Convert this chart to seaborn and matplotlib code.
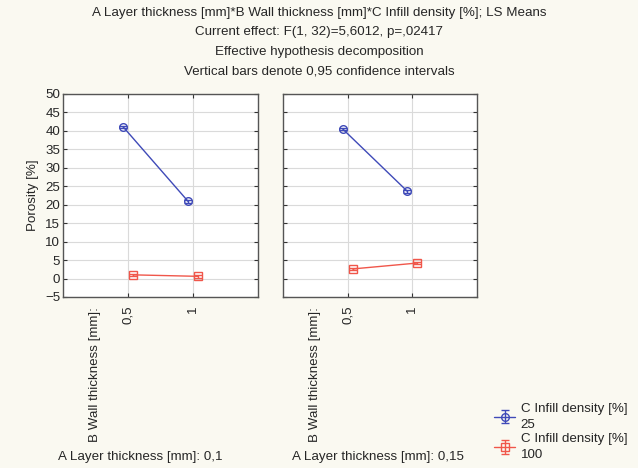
import numpy as np
import pandas as pd
import matplotlib
matplotlib.use("Agg")
import matplotlib.pyplot as plt
from matplotlib.legend_handler import HandlerTuple
import seaborn as sns

# ---- data ----
wall_levels = ["0,5", "1"]
layer_levels = ["0,1", "0,15"]
infill_levels = ["25", "100"]
# porosity LS means per layer panel: [infill 25 values], [infill 100 values]
porosity_layer_01 = {"25": [41.1, 20.9], "100": [1.0, 0.6]}
porosity_layer_015 = {"25": [40.5, 23.6], "100": [2.6, 4.2]}
ci_half = 0.35  # tiny 0.95 confidence half-width

title_lines = [
    "A Layer thickness [mm]*B Wall thickness [mm]*C Infill density [%]; LS Means",
    "Current effect: F(1, 32)=5,6012, p=,02417",
    "Effective hypothesis decomposition",
    "Vertical bars denote 0,95 confidence intervals",
]

rows = []
for layer, d in zip(layer_levels, [porosity_layer_01, porosity_layer_015]):
    for inf in infill_levels:
        for w, v in zip(wall_levels, d[inf]):
            rows.append({"layer": layer, "wall": w, "infill": inf, "porosity": v})
df = pd.DataFrame(rows)

sns.set_theme(style="white")
plt.rcParams["font.family"] = ["Liberation Sans", "DejaVu Sans"]
FS = 9.6
bg = "#FAF9F1"
blue = "#3F4AB8"
red = "#F0564A"
palette = {"25": blue, "100": red}

fig = plt.figure(figsize=(6.38, 4.68), dpi=100, facecolor=bg)
axes = [fig.add_axes([63/638, 1-297/468, 195/638, 203/468]),
        fig.add_axes([283/638, 1-297/468, 194/638, 203/468])]

dodge = 0.15
handles = []
for i, (ax, layer) in enumerate(zip(axes, layer_levels)):
    sub = df[df["layer"] == layer]
    sns.pointplot(data=sub, x="wall", y="porosity", hue="infill",
                  order=wall_levels, hue_order=infill_levels, palette=palette,
                  markers=["o", "s"], linestyles=["-", "-"], dodge=dodge,
                  errorbar=None, markersize=5.5, linewidth=1.0, ax=ax, legend=False)
    lines = list(ax.lines)
    for ln in lines:
        ln.set_markerfacecolor("none")
        ln.set_markeredgewidth(1.0)
    # confidence bars
    for k, inf in enumerate(infill_levels):
        s = sub[sub["infill"] == inf]
        xs = np.arange(len(wall_levels)) + (k - 0.5) * dodge
        eb = ax.errorbar(xs, s["porosity"].values, yerr=ci_half, fmt="none",
                         ecolor=palette[inf], elinewidth=1.0, capsize=3,
                         capthick=1.0)
        if i == 0:
            handles.append((lines[k], eb))
    ax.set_xlim(-1, 2)
    ax.set_ylim(-5, 50)
    ax.set_yticks(np.arange(-5, 51, 5))
    ax.set_facecolor("white")
    ax.grid(True, color="#DADADA", linewidth=0.8)
    ax.set_axisbelow(True)
    ax.tick_params(direction="in", length=3, width=0.8, color="#333333",
                   top=True, right=True, bottom=True, left=True,
                   labelsize=FS, pad=2)
    ax.tick_params(axis="x", labelrotation=90, pad=6)
    for sp in ax.spines.values():
        sp.set_color("#555555")
        sp.set_linewidth(1.0)
    ax.set_xlabel("")
    ax.set_ylabel("")
    ax.text(0.165, -0.05, "B Wall thickness [mm]:", transform=ax.transAxes,
            rotation=90, ha="center", va="top", fontsize=FS)
    if i == 1:
        ax.set_yticklabels([])

axes[0].set_ylabel("Porosity [%]", fontsize=FS, labelpad=4)

fig.text(58/638, 1-457/468, "A Layer thickness [mm]: 0,1", fontsize=FS, va="center", ha="left")
fig.text(292/638, 1-457/468, "A Layer thickness [mm]: 0,15", fontsize=FS, va="center", ha="left")

for j, t in enumerate(title_lines):
    fig.text(0.5, 1-(13 + 19.5*j)/468, t, ha="center", va="center", fontsize=FS)

labels = [f"C Infill density [%]\n{inf}" for inf in infill_levels]
leg = fig.legend(handles=handles, labels=labels, loc="upper left",
                 bbox_to_anchor=(494/638, 1-403/468),
                 handler_map={tuple: HandlerTuple(ndivide=1)}, numpoints=1,
                 frameon=False, fontsize=FS, handlelength=1.6, handletextpad=0.4,
                 borderpad=0, borderaxespad=0, labelspacing=0.2)
for t in leg.get_texts():
    t.set_linespacing(1.4)

fig.savefig("out.png", dpi=100, facecolor=bg)
